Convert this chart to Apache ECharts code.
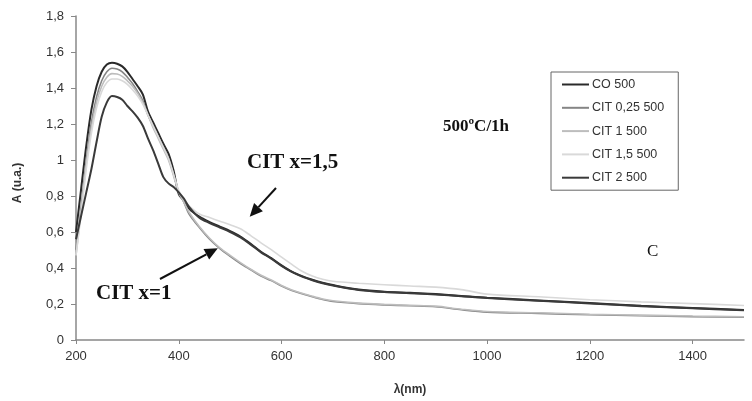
<!DOCTYPE html>
<html><head><meta charset="utf-8">
<script src="https://cdn.jsdelivr.net/npm/echarts@6/dist/echarts.min.js"></script>
<style>html,body{margin:0;padding:0;background:#fff}#c{width:752px;height:401px}</style>
</head><body><div id="c"></div>
<script>
const lambda = [200,210,220,230,240,250,260,270,280,290,300,310,320,330,340,350,360,370,380,390,400,410,420,440,460,480,500,520,540,560,580,600,620,640,660,680,700,750,800,850,900,950,1000,1100,1200,1300,1400,1500];
const co500 = [0.60,0.84,1.08,1.28,1.41,1.49,1.53,1.54,1.535,1.52,1.49,1.45,1.41,1.365,1.27,1.21,1.15,1.09,1.035,0.94,0.81,0.775,0.73,0.685,0.655,0.63,0.605,0.575,0.535,0.49,0.455,0.415,0.38,0.355,0.335,0.318,0.305,0.28,0.268,0.262,0.255,0.245,0.235,0.22,0.205,0.19,0.178,0.167];
const cit025 = [0.50,0.74,1.00,1.21,1.35,1.44,1.49,1.51,1.505,1.49,1.46,1.425,1.38,1.33,1.25,1.19,1.13,1.07,1.01,0.92,0.82,0.765,0.70,0.625,0.56,0.508,0.465,0.425,0.39,0.355,0.33,0.30,0.275,0.257,0.24,0.225,0.214,0.202,0.195,0.19,0.185,0.168,0.155,0.148,0.14,0.135,0.13,0.126];
const cit1 = [0.47,0.72,0.98,1.18,1.32,1.41,1.46,1.48,1.478,1.465,1.44,1.41,1.37,1.32,1.25,1.18,1.12,1.06,1.00,0.91,0.82,0.765,0.71,0.63,0.565,0.512,0.47,0.43,0.393,0.36,0.333,0.303,0.278,0.26,0.243,0.228,0.218,0.205,0.198,0.193,0.188,0.171,0.158,0.151,0.143,0.138,0.133,0.129];
const cit15 = [0.47,0.70,0.95,1.15,1.29,1.38,1.43,1.45,1.45,1.44,1.42,1.39,1.355,1.31,1.25,1.19,1.13,1.07,1.01,0.92,0.83,0.78,0.745,0.70,0.68,0.66,0.64,0.618,0.58,0.54,0.502,0.46,0.42,0.382,0.355,0.337,0.326,0.315,0.307,0.30,0.294,0.28,0.255,0.24,0.224,0.212,0.202,0.192];
const cit2 = [0.56,0.69,0.82,0.95,1.10,1.24,1.32,1.355,1.35,1.335,1.30,1.27,1.235,1.19,1.12,1.055,0.98,0.905,0.87,0.85,0.82,0.785,0.74,0.68,0.65,0.625,0.60,0.57,0.53,0.487,0.452,0.412,0.378,0.352,0.332,0.315,0.302,0.278,0.266,0.26,0.253,0.243,0.233,0.218,0.203,0.188,0.176,0.165];
const seriesNames = ['CO 500','CIT 0,25 500','CIT 1 500','CIT 1,5 500','CIT 2 500'];
const seriesData = [co500, cit025, cit1, cit15, cit2];
const seriesColors = ['#2a2a2a','#858585','#bdbdbd','#d9d9d9','#3a3a3a'];
const seriesWidths = [2,1.6,1.6,1.6,2];
const drawOrder = [3,2,1,4,0];

const chart = echarts.init(document.getElementById('c'));
const series = drawOrder.map(i => ({
  name: seriesNames[i], type: 'line', symbol: 'none', smooth: 0.3,
  data: lambda.map((x, k) => [x, seriesData[i][k]]),
  lineStyle: {color: seriesColors[i], width: seriesWidths[i]},
  itemStyle: {color: seriesColors[i]}, z: 2 + i
}));
chart.setOption({
  animation: false,
  grid: {left: 76, right: 8, top: 16, bottom: 59},
  legend: {
    orient: 'vertical', left: 551, top: 72, data: seriesNames,
    icon: 'rect', itemWidth: 27, itemHeight: 2, itemGap: 8.3, padding: [5, 14, 5, 11],
    borderColor: '#666', borderWidth: 1, borderRadius: 0,
    textStyle: {fontFamily: 'Liberation Sans', fontSize: 12.5, lineHeight: 15, color: '#333', padding: [0,0,0,-2]}
  },
  xAxis: {
    type: 'value', min: 200, max: 1500, interval: 200,
    name: 'λ(nm)', nameLocation: 'middle', nameGap: 44,
    nameTextStyle: {fontFamily: 'Liberation Sans', fontSize: 12, fontWeight: 'bold', color: '#333'},
    axisLine: {lineStyle: {color: '#888', width: 1.5}},
    axisTick: {show: true, length: 4, lineStyle: {color: '#888'}},
    axisLabel: {showMaxLabel: false, fontFamily: 'Liberation Sans', fontSize: 13, color: '#333', margin: 10,
      formatter: v => String(v)},
    splitLine: {show: false}
  },
  yAxis: {
    type: 'value', min: 0, max: 1.8, interval: 0.2,
    name: 'A (u.a.)', nameLocation: 'middle', nameGap: 52, nameRotate: 90,
    nameTextStyle: {fontFamily: 'Liberation Sans', fontSize: 12, fontWeight: 'bold', color: '#333', padding: [0,0,0,-10]},
    axisLine: {show: true, lineStyle: {color: '#888', width: 1.5}},
    axisTick: {show: true, length: 5, lineStyle: {color: '#888'}},
    axisLabel: {fontFamily: 'Liberation Sans', fontSize: 13, color: '#333', margin: 12,
      formatter: v => String(+v.toFixed(1)).replace('.', ',')},
    splitLine: {show: false}
  },
  series: series
});

function arrow(from, to) {
  const dx = to[0] - from[0], dy = to[1] - from[1];
  const len = Math.hypot(dx, dy), ux = dx / len, uy = dy / len;
  const hl = 13, hw = 6;
  const bx = to[0] - ux * hl, by = to[1] - uy * hl;
  return [
    {type: 'line', shape: {x1: from[0], y1: from[1], x2: bx, y2: by}, style: {stroke: '#111', lineWidth: 2}},
    {type: 'polygon', shape: {points: [[to[0], to[1]], [bx - uy * hw, by + ux * hw], [bx + uy * hw, by - ux * hw]]}, style: {fill: '#111'}}
  ];
}
const tip1 = chart.convertToPixel({gridIndex: 0}, [538, 0.685]);
const tip2 = chart.convertToPixel({gridIndex: 0}, [476, 0.51]);
chart.setOption({
  graphic: [
    ...arrow([276, 188], tip1),
    ...arrow([160, 279], tip2),
    {type: 'text', left: 247, top: 152, style: {text: 'CIT x=1,5', font: 'bold 21px "Liberation Serif"', fill: '#111'}},
    {type: 'text', left: 96, top: 283, style: {text: 'CIT x=1', font: 'bold 21px "Liberation Serif"', fill: '#111'}},
    {type: 'text', left: 443, top: 118, style: {text: '500ºC/1h', font: 'bold 17px "Liberation Serif"', fill: '#111'}},
    {type: 'text', left: 647, top: 243, style: {text: 'C', font: '17px "Liberation Serif"', fill: '#111'}}
  ]
});
</script></body></html>
